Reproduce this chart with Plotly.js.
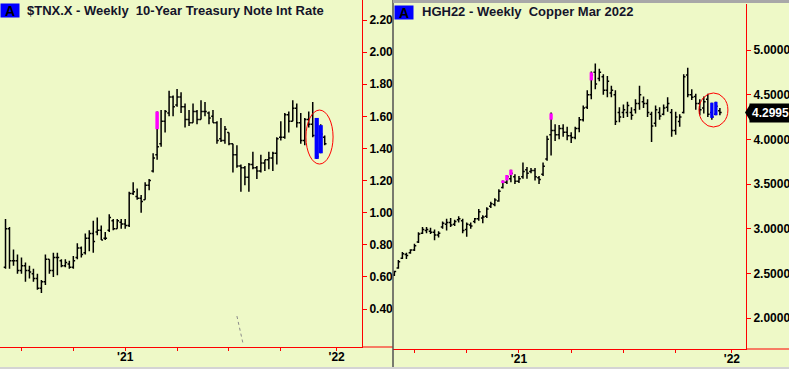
<!DOCTYPE html>
<html><head><meta charset="utf-8">
<script src="https://cdn.plot.ly/plotly-3.0.1.min.js"></script>
<style>html,body{margin:0;padding:0;background:#EEF9C7;overflow:hidden}#chart{width:789px;height:369px}</style>
</head><body><div id="chart"></div>
<script>
// weekly bars, Fridays, 2020-05-29 .. 2021-12-17 (copper uses all, TNX starts at 2020-06-05)
const weeks = ["2020-05-29","2020-06-05","2020-06-12","2020-06-19","2020-06-26","2020-07-03","2020-07-10","2020-07-17","2020-07-24","2020-07-31",
"2020-08-07","2020-08-14","2020-08-21","2020-08-28","2020-09-04","2020-09-11","2020-09-18","2020-09-25","2020-10-02","2020-10-09",
"2020-10-16","2020-10-23","2020-10-30","2020-11-06","2020-11-13","2020-11-20","2020-11-27","2020-12-04","2020-12-11","2020-12-18",
"2020-12-25","2021-01-01","2021-01-08","2021-01-15","2021-01-22","2021-01-29","2021-02-05","2021-02-12","2021-02-19","2021-02-26",
"2021-03-05","2021-03-12","2021-03-19","2021-03-26","2021-04-02","2021-04-09","2021-04-16","2021-04-23","2021-04-30","2021-05-07",
"2021-05-14","2021-05-21","2021-05-28","2021-06-04","2021-06-11","2021-06-18","2021-06-25","2021-07-02","2021-07-09","2021-07-16",
"2021-07-23","2021-07-30","2021-08-06","2021-08-13","2021-08-20","2021-08-27","2021-09-03","2021-09-10","2021-09-17","2021-09-24",
"2021-10-01","2021-10-08","2021-10-15","2021-10-22","2021-10-29","2021-11-05","2021-11-12","2021-11-19","2021-11-26","2021-12-03",
"2021-12-10","2021-12-17"];

// $TNX.X weekly (81 bars from 2020-06-05)
const tnxOpen  = [0.66,0.90,0.70,0.70,0.64,0.67,0.64,0.62,0.59,0.53, 0.57,0.71,0.64,0.72,0.70,0.67,0.68,0.66,0.72,0.78,
  0.75,0.84,0.87,0.88,0.89,0.84,0.89,0.95,0.90,0.94, 0.93,0.92,1.12,1.10,1.09,1.08,1.17,1.26,1.36,1.43,
  1.57,1.62,1.72,1.67,1.72,1.66,1.58,1.56,1.63,1.58, 1.63,1.62,1.60,1.56,1.46,1.45,1.50,1.43,1.36,1.29,
  1.28,1.22,1.30,1.28,1.26,1.31,1.33,1.34,1.37,1.47, 1.47,1.61,1.57,1.65,1.56,1.45,1.58,1.55,1.48,1.40,1.47];
const tnxHigh  = [0.96,0.91,0.77,0.74,0.72,0.69,0.67,0.65,0.62,0.58, 0.74,0.71,0.75,0.75,0.71,0.71,0.70,0.73,0.81,0.79,
  0.87,0.89,0.95,0.97,0.92,0.88,0.99,0.96,0.96,0.96, 0.96,1.13,1.19,1.15,1.11,1.19,1.21,1.37,1.63,1.64,
  1.64,1.76,1.73,1.77,1.75,1.68,1.64,1.68,1.64,1.70, 1.69,1.63,1.64,1.57,1.59,1.54,1.50,1.43,1.42,1.30,
  1.29,1.31,1.38,1.29,1.36,1.33,1.38,1.38,1.47,1.57, 1.62,1.63,1.70,1.68,1.62,1.59,1.63,1.69,1.59,1.55,1.48];
const tnxLow   = [0.65,0.65,0.67,0.62,0.62,0.57,0.59,0.57,0.52,0.50, 0.55,0.62,0.60,0.61,0.66,0.66,0.65,0.65,0.71,0.72,
  0.74,0.76,0.75,0.86,0.83,0.83,0.88,0.89,0.90,0.90, 0.90,0.91,1.11,1.08,1.00,1.08,1.14,1.25,1.33,1.41,
  1.50,1.60,1.60,1.66,1.62,1.53,1.54,1.56,1.55,1.58, 1.60,1.55,1.56,1.43,1.44,1.43,1.42,1.25,1.28,1.13,
  1.17,1.13,1.27,1.21,1.25,1.26,1.27,1.26,1.30,1.45, 1.46,1.50,1.57,1.53,1.43,1.42,1.53,1.47,1.335,1.37,1.42];
const tnxClose = [0.90,0.70,0.70,0.64,0.67,0.64,0.63,0.59,0.53,0.57, 0.71,0.64,0.72,0.72,0.67,0.69,0.66,0.70,0.78,0.74,
  0.84,0.87,0.82,0.89,0.83,0.84,0.97,0.90,0.95,0.93, 0.92,1.12,1.13,1.09,1.07,1.17,1.20,1.34,1.41,1.57,
  1.63,1.72,1.66,1.72,1.66,1.58,1.56,1.63,1.58,1.63, 1.63,1.59,1.56,1.45,1.45,1.52,1.43,1.36,1.29,1.28,
  1.22,1.30,1.28,1.26,1.31,1.33,1.34,1.37,1.46,1.47, 1.61,1.57,1.65,1.56,1.45,1.58,1.55,1.48,1.35,1.49,1.43];

// HGH22 copper weekly (82 bars from 2020-05-29)
const cuOpen  = [2.48,2.56,2.67,2.71,2.73,2.76,2.85,2.95,2.98,2.97, 2.96,2.93,3.02,3.05,3.07,3.05,3.10,3.09,2.99,3.04,
  3.08,3.11,3.12,3.14,3.25,3.27,3.31,3.46,3.52,3.56, 3.58,3.53,3.58,3.66,3.64,3.65,3.57,3.61,3.78,4.05,
  4.10,4.05,4.12,4.08,4.04,4.02,4.12,4.22,4.36,4.50, 4.75,4.68,4.70,4.55,4.52,4.50,4.30,4.30,4.30,4.30,
  4.33,4.40,4.42,4.40,4.28,4.18,4.30,4.28,4.36,4.30, 4.10,4.20,4.30,4.72,4.50,4.48,4.40,4.35,4.45,4.30,4.28,4.32];
const cuHigh  = [2.53,2.65,2.74,2.73,2.77,2.83,2.96,3.02,3.02,3.01, 2.99,2.97,3.08,3.11,3.12,3.10,3.14,3.11,3.07,3.07,
  3.12,3.22,3.15,3.24,3.30,3.34,3.44,3.54,3.60,3.66, 3.61,3.59,3.74,3.69,3.68,3.68,3.59,3.74,4.04,4.30,
  4.17,4.16,4.17,4.14,4.08,4.14,4.25,4.38,4.55,4.76, 4.85,4.79,4.73,4.71,4.60,4.55,4.36,4.39,4.42,4.36,
  4.45,4.60,4.48,4.45,4.31,4.38,4.36,4.39,4.47,4.34, 4.31,4.28,4.73,4.80,4.56,4.51,4.45,4.48,4.51,4.41,4.42,4.35];
const cuLow   = [2.47,2.55,2.66,2.66,2.72,2.75,2.84,2.94,2.95,2.94, 2.87,2.90,3.00,2.98,3.02,3.03,3.07,2.95,2.91,3.00,
  3.06,3.09,3.06,3.12,3.23,3.25,3.30,3.45,3.50,3.52, 3.50,3.51,3.56,3.56,3.62,3.54,3.50,3.59,3.76,3.82,
  3.98,4.00,4.03,3.99,3.96,4.00,4.08,4.20,4.34,4.45, 4.56,4.65,4.50,4.47,4.47,4.16,4.19,4.24,4.25,4.22,
  4.29,4.33,4.35,4.25,3.97,4.14,4.22,4.27,4.31,4.03, 4.05,4.14,4.29,4.47,4.44,4.33,4.27,4.29,4.25,4.22,4.27,4.27];
const cuClose = [2.52,2.63,2.72,2.70,2.76,2.81,2.94,2.99,2.99,2.96, 2.93,2.95,3.06,3.07,3.04,3.08,3.11,2.98,3.05,3.03,
  3.11,3.19,3.13,3.22,3.28,3.32,3.42,3.52,3.58,3.62, 3.53,3.56,3.64,3.62,3.65,3.58,3.55,3.70,4.00,4.10,
  4.05,4.12,4.08,4.04,4.02,4.12,4.22,4.35,4.50,4.72, 4.62,4.75,4.55,4.65,4.55,4.20,4.25,4.33,4.38,4.27,
  4.40,4.50,4.40,4.30,4.15,4.33,4.26,4.35,4.40,4.10, 4.25,4.25,4.70,4.50,4.47,4.40,4.33,4.42,4.28,4.25,4.37,4.2995];
const cuLast = 4.2995;

// highlighted bars (bar index on each panel's own week count)
const tnxPinkIdx = [38], tnxPinkLow = [1.52], tnxPinkHigh = [1.63];
const tnxBlueIdx = [78, 79], tnxBlueLow = [1.335, 1.37], tnxBlueHigh = [1.59, 1.545];
const cuPinkIdx = [26, 27, 28, 38, 48], cuPinkLow = [3.51, 3.54, 3.60, 4.22, 4.66], cuPinkHigh = [3.54, 3.60, 3.66, 4.29, 4.75];
const cuBlueIdx = [78, 79], cuBlueLow = [4.24, 4.27], cuBlueHigh = [4.41, 4.42];

// circled region and stray dotted trendline
const tnxRingX = [75.3, 82.1], tnxRingY = [1.303, 1.639];
const cuRingX = [74.8, 82.0], cuRingY = [4.138, 4.519];
const tnxTrendX = [58.0, 59.5], tnxTrendY = [0.356, 0.188];

// axes
const tnxTicks = [0.4,0.6,0.8,1.0,1.2,1.4,1.6,1.8,2.0,2.2];
const cuTicks = [2.0,2.5,3.0,3.5,4.0,4.5,5.0];
const quarterTickIdx = [4,17,30,43,56,69,83];
const quarterTickText = ["","","'21","","","","'22"];
const tnxTitle = "$TNX.X - Weekly\u00a0 10-Year Treasury Note Int Rate";
const cuTitle = "HGH22 - Weekly\u00a0 Copper Mar 2022";

const W = 789, H = 369;
const BG = '#EEF9C7';
const FONT = 'Liberation Sans, Arial, sans-serif';
const tnxX = tnxClose.map((_, i) => i);
const cuX = cuClose.map((_, i) => i - 1);

function ohlc(x, o, h, l, c, xa, ya) {
  return {type:'ohlc', x:x, open:o, high:h, low:l, close:c, xaxis:xa, yaxis:ya,
    increasing:{line:{color:'#000', width:1.5}}, decreasing:{line:{color:'#000', width:1.5}},
    tickwidth:0.45, hoverinfo:'skip', showlegend:false};
}
// thick vertical segments, drawn in the scatter layer so they sit on top of the OHLC bars
function boxes(idx, lo, hi, color, px, xa, ya) {
  const xs = [], ys = [];
  idx.forEach((v, i) => { xs.push(v, v, null); ys.push(lo[i], hi[i], null); });
  return {type:'scatter', mode:'lines', x:xs, y:ys, connectgaps:false, line:{color:color, width:px},
    xaxis:xa, yaxis:ya, hoverinfo:'skip', showlegend:false};
}

const data = [
  ohlc(tnxX, tnxOpen, tnxHigh, tnxLow, tnxClose, 'x', 'y'),
  boxes(tnxPinkIdx, tnxPinkLow, tnxPinkHigh, '#FF00FF', 3.5, 'x', 'y'),
  boxes(tnxBlueIdx, tnxBlueLow, tnxBlueHigh, '#0000FF', 4.2, 'x', 'y'),
  {type:'scatter', mode:'lines', x:tnxTrendX, y:tnxTrendY, line:{color:'#8a8a8a', width:1, dash:'dot'}, hoverinfo:'skip', showlegend:false},
  ohlc(cuX, cuOpen, cuHigh, cuLow, cuClose, 'x2', 'y2'),
  boxes(cuPinkIdx, cuPinkLow, cuPinkHigh, '#FF00FF', 3.3, 'x2', 'y2'),
  boxes(cuBlueIdx, cuBlueLow, cuBlueHigh, '#0000FF', 3.3, 'x2', 'y2')
];

const xCommon = {showline:true, linecolor:'#FF0000', linewidth:1, ticks:'outside', ticklen:3, tickcolor:'#FF0000', tickwidth:1,
  tickvals:quarterTickIdx, ticktext:quarterTickText, showgrid:false, zeroline:false, fixedrange:true, ticklabelstandoff:-4,
  tickfont:{family:FONT, size:12, color:'#000', weight:'bold'}};
const yCommon = {side:'right', showline:true, linecolor:'#FF0000', linewidth:1, ticks:'outside', ticklen:4, tickcolor:'#FF0000', tickwidth:1,
  showgrid:false, zeroline:false, fixedrange:true, tickfont:{family:FONT, size:12, color:'#000', weight:'bold'}};

const layout = {
  width:W, height:H, margin:{l:0, r:0, t:0, b:0, pad:0},
  paper_bgcolor:BG, plot_bgcolor:BG, showlegend:false, dragmode:false,
  xaxis:Object.assign({}, xCommon, {domain:[0, 362/W], range:[-1.38, 89.35], anchor:'y', rangeslider:{visible:false}}),
  yaxis:Object.assign({}, yCommon, {domain:[22/H, 1], range:[0.1633, 2.3246], anchor:'x', tickvals:tnxTicks, tickformat:'.2f'}),
  xaxis2:Object.assign({}, xCommon, {domain:[393/W, 746/W], range:[-1.34, 86.5], anchor:'y2', rangeslider:{visible:false}}),
  yaxis2:Object.assign({}, yCommon, {domain:[20/H, 1 - 4/H], range:[1.653, 5.515], anchor:'x2', tickvals:cuTicks, tickformat:'.4f'}),
  shapes:[
    {type:'circle', xref:'x', yref:'y', x0:tnxRingX[0], x1:tnxRingX[1], y0:tnxRingY[0], y1:tnxRingY[1], line:{color:'#FF0000', width:1}},
    {type:'circle', xref:'x2', yref:'y2', x0:cuRingX[0], x1:cuRingX[1], y0:cuRingY[0], y1:cuRingY[1], line:{color:'#FF0000', width:1}},
    {type:'line', xref:'paper', yref:'paper', x0:362/W, x1:393/W, y0:22/H, y1:22/H, line:{color:'#FF0000', width:1}},
    {type:'line', xref:'paper', yref:'paper', x0:746/W, x1:1, y0:20/H, y1:20/H, line:{color:'#FF0000', width:1}},
    {type:'line', xref:'paper', yref:'paper', x0:393/W, x1:393/W, y0:0, y1:1, line:{color:'#505050', width:1.5}},
    {type:'line', xref:'paper', yref:'paper', x0:393/W, x1:1, y0:1 - 1.5/H, y1:1 - 1.5/H, line:{color:'#a8a8a8', width:3}},
    {type:'line', xref:'paper', yref:'paper', x0:0, x1:1, y0:1/H, y1:1/H, line:{color:'#d4d4d4', width:2}},
    {type:'path', xref:'paper', yref:'y2', path:'M ' + (745/W) + ' ' + cuLast + ' L ' + (750/W) + ' ' + (cuLast + 0.09) + ' L ' + (750/W) + ' ' + (cuLast - 0.09) + ' Z',
      fillcolor:'#000', line:{width:0}}
  ],
  annotations:[
    {xref:'paper', yref:'paper', x:0, y:1 - 3/H, xanchor:'left', yanchor:'top', text:'<b>A</b>', showarrow:false,
      bgcolor:'#0000FF', width:18, height:13, borderpad:0, font:{family:FONT, size:14, color:'#000'}},
    {xref:'paper', yref:'paper', x:25/W, y:1 - 10/H, xanchor:'left', yanchor:'middle', text:'<b>' + tnxTitle + '</b>', showarrow:false,
      font:{family:FONT, size:13, color:'#14142a'}},
    {xref:'paper', yref:'paper', x:394/W, y:1 - 5/H, xanchor:'left', yanchor:'top', text:'<b>A</b>', showarrow:false,
      bgcolor:'#0000FF', width:18, height:13, borderpad:0, font:{family:FONT, size:14, color:'#000'}},
    {xref:'paper', yref:'paper', x:420/W, y:1 - 12/H, xanchor:'left', yanchor:'middle', text:'<b>' + cuTitle + '</b>', showarrow:false,
      font:{family:FONT, size:13, color:'#14142a'}},
    {xref:'paper', yref:'y2', x:749/W, y:cuLast, xanchor:'left', yanchor:'middle', text:'<b>' + cuLast.toFixed(4) + '</b>', showarrow:false,
      bgcolor:'#000', borderpad:2, font:{family:FONT, size:12, color:'#fff'}}
  ]
};

Plotly.newPlot('chart', data, layout, {displayModeBar:false, staticPlot:true});
</script></body></html>
